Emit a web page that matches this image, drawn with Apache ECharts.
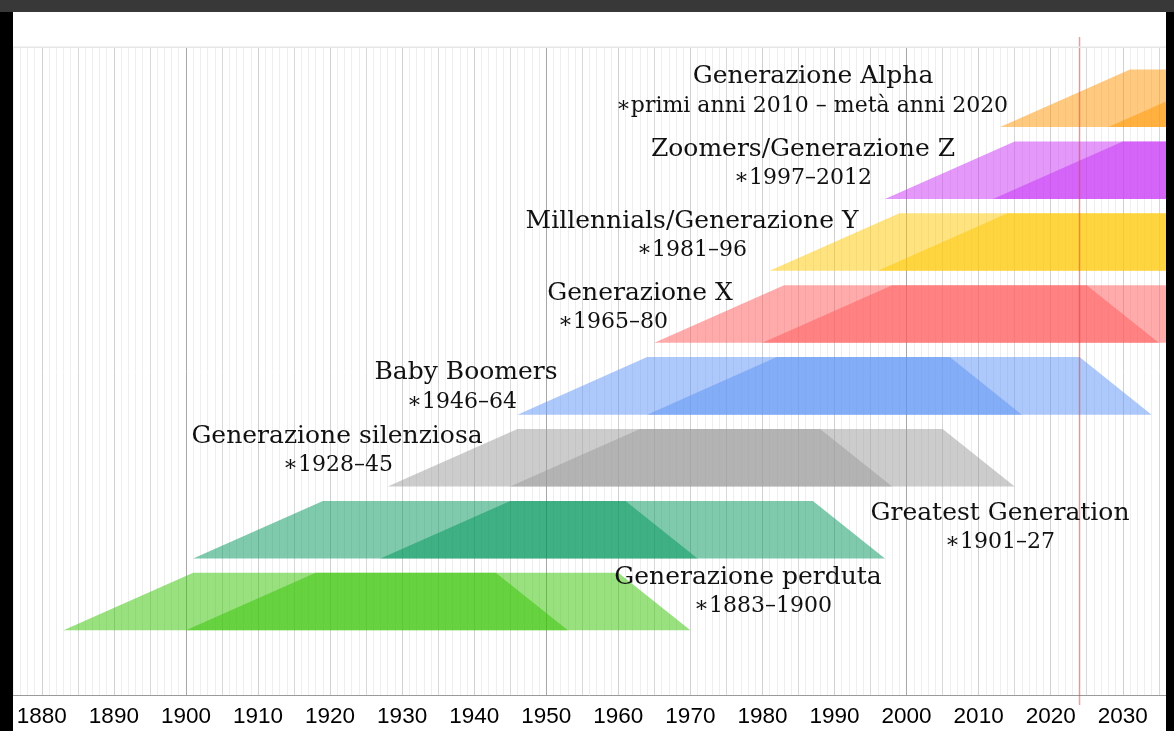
<!DOCTYPE html>
<html>
<head>
<meta charset="utf-8">
<script src="https://cdn.jsdelivr.net/npm/echarts@6/dist/echarts.min.js"></script>
<style>
html,body{margin:0;padding:0;background:#fff;}
#chart{width:1174px;height:731px;}
</style>
</head>
<body>
<div id="chart"></div>
<script>
// ---------- data ----------
const generations = ['Generazione perduta', 'Greatest Generation', 'Generazione silenziosa', 'Baby Boomers',
  'Generazione X', 'Millennials/Generazione Y', 'Zoomers/Generazione Z', 'Generazione Alpha'];
const birthRanges = ['∗1883–1900', '∗1901–27', '∗1928–45', '∗1946–64', '∗1965–80', '∗1981–96', '∗1997–2012',
  '∗primi anni 2010 – metà anni 2020'];
// band corners (years): [bottom-left, top-left, top-right, bottom-right]
const firstBornBand = [
  [1883, 1901, 1943, 1953], [1901, 1919, 1961, 1971], [1928, 1946, 1988, 1998], [1946, 1964, 2006, 2016],
  [1965, 1983, 2025, 2035], [1981, 1999, 2041, 2051], [1997, 2015, 2057, 2067], [2013, 2031, 2073, 2083]];
const lastBornBand = [
  [1900, 1918, 1960, 1970], [1927, 1945, 1987, 1997], [1945, 1963, 2005, 2015], [1964, 1982, 2024, 2034],
  [1980, 1998, 2040, 2050], [1996, 2014, 2056, 2066], [2012, 2030, 2072, 2082], [2028, 2046, 2088, 2098]];
const currentYear = [2024];
const yearMin = 1876, yearMax = 2036;
const tickLabelStep = 10;

// ---------- style ----------
const bandColors = ['#33c400', '#009559', '#999999', '#5b91f5', '#ff5757', '#ffc800', '#c832f5', '#ff9600'];
const bandHalf = 0.4;
// label placement (pixels): [title cx, title cy, sub cx, sub cy]
const labelPos = [
  [748, 577, 763, 606], [1000, 513, 1000, 542], [337, 436, 338, 465], [466, 372, 462, 402],
  [640, 293, 613, 322], [692, 221, 692, 250], [803, 149, 803, 178], [813, 76, 812, 106]];

const bandData = [];
generations.forEach((g, i) => {
  bandData.push([i].concat(firstBornBand[i]));
  bandData.push([i].concat(lastBornBand[i]));
});

const gridColors = [];
for (let i = 0; i < 50; i++) {
  const y = yearMin + i;
  gridColors.push(y % 50 === 0 ? '#a8a8a8' : y % 10 === 0 ? '#d0d0d0' : y % 5 === 0 ? '#d8d8d8' : '#eeeeee');
}

const serif = '"DejaVu Serif", serif';
const texts = [];
generations.forEach((g, i) => {
  const p = labelPos[i];
  texts.push({type: 'text', x: p[0], y: p[1], z: 50,
    style: {text: g, font: '25px ' + serif, fill: '#111', align: 'center', verticalAlign: 'middle'}});
  texts.push({type: 'text', x: p[2], y: p[3], z: 50,
    style: {text: birthRanges[i], font: '22px ' + serif, fill: '#111', align: 'center', verticalAlign: 'middle'}});
});

const chart = echarts.init(document.getElementById('chart'), null, {renderer: 'canvas'});
chart.setOption({
  backgroundColor: '#fff',
  animation: false,
  grid: {left: 13, right: 8, top: 48, bottom: 36, containLabel: false},
  xAxis: {
    type: 'value', min: yearMin, max: yearMax, interval: 1,
    axisLine: {show: true, onZero: false, lineStyle: {color: '#9a9a9a', width: 1}},
    axisTick: {show: false},
    axisLabel: {
      show: true, margin: 10, color: '#000', fontSize: 22.5, fontFamily: '"Liberation Sans", Arial, sans-serif',
      showMinLabel: true, showMaxLabel: true,
      formatter: v => (v % tickLabelStep === 0 ? String(v) : '')
    },
    splitLine: {show: true, showMinLine: true, showMaxLine: true, lineStyle: {color: gridColors, width: 1}}
  },
  yAxis: {type: 'value', min: -1.3, max: 7.7, show: false, splitLine: {show: false}},
  graphic: [
    {type: 'rect', z: 100, shape: {x: 13, y: 46.5, width: 1153, height: 1.5}, style: {fill: '#e6e6e6'}},
    {type: 'rect', z: 200, shape: {x: 0, y: 0, width: 1174, height: 12}, style: {fill: '#383838'}},
    {type: 'rect', z: 200, shape: {x: 0, y: 12, width: 13, height: 719}, style: {fill: '#000'}},
    {type: 'rect', z: 200, shape: {x: 1166, y: 12, width: 8, height: 719}, style: {fill: '#000'}}
  ].concat(texts),
  series: [
    {
      type: 'custom', clip: true, silent: true,
      data: bandData,
      encode: {x: [1, 2, 3, 4], y: 0},
      renderItem: (params, api) => {
        const row = api.value(0);
        const pts = [
          api.coord([api.value(1), row - bandHalf]),
          api.coord([api.value(2), row + bandHalf]),
          api.coord([api.value(3), row + bandHalf]),
          api.coord([api.value(4), row - bandHalf])
        ];
        return {type: 'polygon', shape: {points: pts}, style: {fill: bandColors[row], opacity: 0.5}};
      }
    },
    {
      type: 'custom', clip: false, silent: true, z: 10,
      data: currentYear.map(y => [y]),
      encode: {x: 0},
      renderItem: (params, api) => {
        const top = api.coord([api.value(0), 7.7]);
        const bot = api.coord([api.value(0), -1.3]);
        return {type: 'line', shape: {x1: top[0], y1: top[1] - 11, x2: bot[0], y2: bot[1] + 10},
          style: {stroke: 'rgba(230,60,60,0.5)', lineWidth: 1.5}};
      }
    }
  ]
});
</script>
</body>
</html>
